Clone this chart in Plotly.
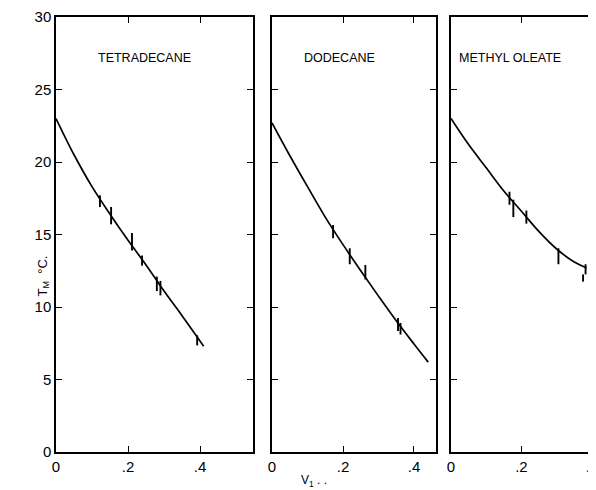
import plotly.graph_objects as go

# ---------------- data ----------------
panel_names = ["TETRADECANE", "DODECANE", "METHYL OLEATE"]

# fitted curves
curve1_x = [0.0, 0.05, 0.10, 0.15, 0.20, 0.25, 0.30, 0.35, 0.41]
curve1_y = [23.0, 20.5, 18.3, 16.4, 14.6, 12.9, 11.1, 9.4, 7.3]
curve2_x = [0.0, 0.05, 0.10, 0.15, 0.20, 0.25, 0.30, 0.35, 0.40, 0.44]
curve2_y = [22.7, 20.45, 18.3, 16.2, 14.3, 12.5, 10.75, 9.05, 7.45, 6.2]
curve3_x = [0.0, 0.05, 0.10, 0.15, 0.20, 0.25, 0.30, 0.35, 0.385]
curve3_y = [23.0, 21.2, 19.6, 18.0, 16.6, 15.2, 14.0, 13.1, 12.7]

# measured points with vertical error bars
pts1_x = [0.122, 0.153, 0.211, 0.239, 0.280, 0.290, 0.392]
pts1_y = [17.3, 16.3, 14.5, 13.2, 11.6, 11.3, 7.7]
err1 = [0.4, 0.6, 0.6, 0.35, 0.5, 0.5, 0.35]
pts2_x = [0.172, 0.219, 0.263, 0.355, 0.362]
pts2_y = [15.2, 13.5, 12.4, 8.8, 8.5]
err2 = [0.45, 0.55, 0.5, 0.45, 0.4]
pts3_x = [0.166, 0.177, 0.214, 0.305, 0.382, 0.375]
pts3_y = [17.5, 16.8, 16.2, 13.5, 12.6, 12.0]
err3 = [0.45, 0.6, 0.45, 0.55, 0.35, 0.25]

x_tickvals = [0, 0.2, 0.4]
x_ticktext = ["0", ".2", ".4"]
y_tickvals = [0, 5, 10, 15, 20, 25, 30]
y_ticktext = ["0", "5", "10", "15", "20", "25", "30"]

# ---------------- figure ----------------
W, H = 596, 490
OFF = 8  # page body margin offset
fig = go.Figure()

curves = [(curve1_x, curve1_y), (curve2_x, curve2_y), (curve3_x, curve3_y)]
points = [(pts1_x, pts1_y, err1), (pts2_x, pts2_y, err2), (pts3_x, pts3_y, err3)]
axes = [("x", "y"), ("x2", "y2"), ("x3", "y3")]

for (cx, cy), (px, py, pe), (xa, ya) in zip(curves, points, axes):
    fig.add_trace(go.Scatter(x=cx, y=cy, mode="lines",
                             line=dict(color="black", width=1.7, shape="spline", smoothing=1.0),
                             xaxis=xa, yaxis=ya, showlegend=False, hoverinfo="skip"))
    fig.add_trace(go.Scatter(x=px, y=py, mode="markers", marker=dict(size=1, color="black"),
                             error_y=dict(type="data", array=pe, visible=True, color="black",
                                          thickness=1.9, width=0),
                             xaxis=xa, yaxis=ya, showlegend=False))

# pixel geometry (reference pixel positions, shifted by body offset)
x_domains = [(56, 253), (272, 436), (451, 594)]
x_ranges = [[0, 0.547], [0, 0.462], [0, 0.406]]
y_top, y_bot = 17, 452
y_dom = [(H - (y_bot - OFF)) / H, (H - (y_top - OFF)) / H]

tickfont = dict(family="Liberation Sans, Arial, sans-serif", size=15, color="black")
for i, ((a, b), rng) in enumerate(zip(x_domains, x_ranges)):
    sfx = "" if i == 0 else str(i + 1)
    fig.layout["xaxis" + sfx] = dict(
        domain=[(a - OFF) / W, (b - OFF) / W], range=rng, anchor="y" + sfx,
        tickvals=x_tickvals, ticktext=x_ticktext, ticks="inside", ticklen=6, tickwidth=1.2,
        tickcolor="black", showline=True, linecolor="black", linewidth=1.5, mirror="ticks",
        showgrid=False, zeroline=False, tickfont=tickfont, fixedrange=True, automargin=False,
    )
    fig.layout["yaxis" + sfx] = dict(
        domain=y_dom, range=[0, 30], anchor="x" + sfx,
        tickvals=y_tickvals, ticktext=y_ticktext, showticklabels=(i == 0),
        ticks="inside", ticklen=6, tickwidth=1.2, tickcolor="black",
        showline=True, linecolor="black", linewidth=1.5, mirror="ticks",
        showgrid=False, zeroline=False, tickfont=tickfont, fixedrange=True, automargin=False,
    )

title_pos = [(0.247, 27.2), (0.19, 27.2), (0.168, 27.2)]
annots = []
for i, (name, (tx, ty)) in enumerate(zip(panel_names, title_pos)):
    sfx = "" if i == 0 else str(i + 1)
    annots.append(dict(x=tx, y=ty, xref="x" + sfx, yref="y" + sfx, text=name, showarrow=False,
                       font=dict(family="Liberation Sans, Arial, sans-serif", size=12.5, color="black")))

annots.append(dict(x=(32 - OFF) / W, y=(H - (276 - OFF)) / H, xref="paper", yref="paper",
                   text="T<sub>M</sub>  °C.", textangle=-90, showarrow=False,
                   font=dict(family="Liberation Sans, Arial, sans-serif", size=13, color="black")))
annots.append(dict(x=(314 - OFF) / W, y=(H - (481 - OFF)) / H, xref="paper", yref="paper",
                   text="V<sub>1</sub> . .", showarrow=False, yanchor="middle",
                   font=dict(family="Liberation Sans, Arial, sans-serif", size=12, color="black")))

fig.update_layout(
    width=W, height=H, margin=dict(l=0, r=0, t=0, b=0, autoexpand=False),
    paper_bgcolor="white", plot_bgcolor="white", annotations=annots,
)

fig.write_html("out.html")
